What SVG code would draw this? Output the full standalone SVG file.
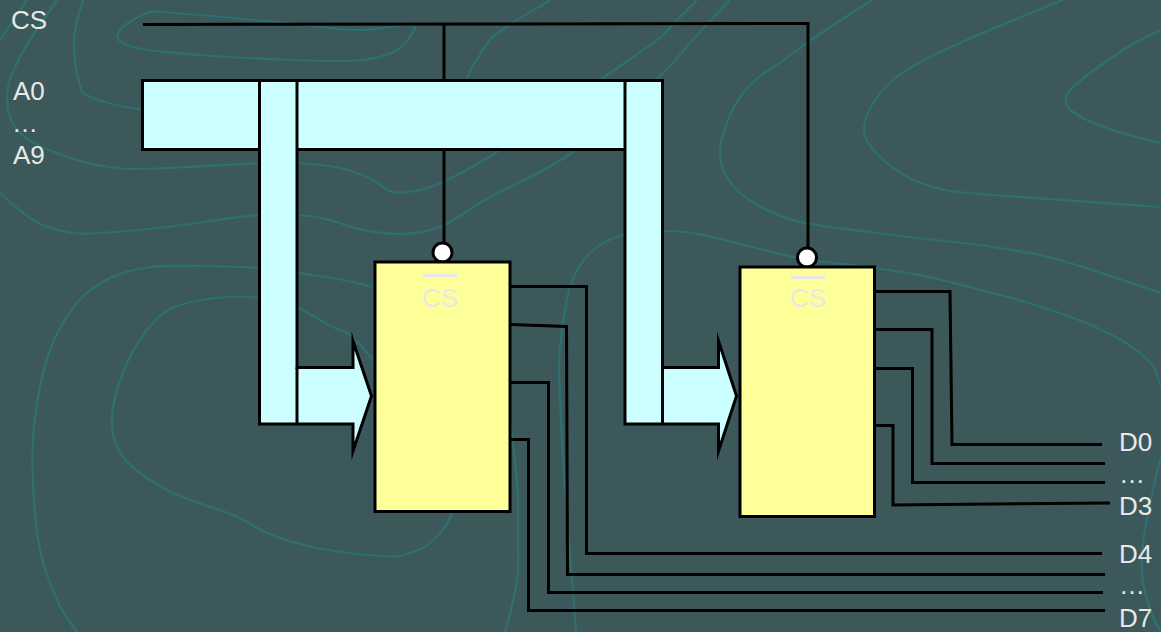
<svg xmlns="http://www.w3.org/2000/svg" width="1161" height="632" viewBox="0 0 1161 632">
<style>
.bg{fill:#3c585a}
.c{fill:none;stroke:#2e7071;stroke-width:2.2}
.w{fill:none;stroke:#000;stroke-width:3}
.b{fill:#ccffff;stroke:#000;stroke-width:3;stroke-miterlimit:10}
.y{fill:#ffff99;stroke:#000;stroke-width:3}
.o{fill:#fff;stroke:#000;stroke-width:3}
.t{font-family:"Liberation Sans",Arial,sans-serif;font-size:26px;fill:#e8e8e8}
</style>
<rect class="bg" width="1161" height="632"/>
<g id="contours">
<path class="c" d="M118,33C120,27 138,16 147,13S159,12 173,13S214,16 233,18S266,21 287,23S336,30 357,30S401,24 410,25S414,29 412,33S405,45 397,50S381,58 363,60S317,61 290,60S226,57 200,55S147,51 133,47S116,39 118,33Z"/>
<path class="c" d="M57,0C57,0 28,41 20,57S7,84 7,97S10,123 20,133S51,151 67,157S100,166 117,168S143,169 167,168S240,164 258,163"/>
<path class="c" d="M83,0C78,15 74,30 74,43C74,60 76,78 83,93C100,103 125,107 142,110"/>
<path class="c" d="M467,78C471,68 474,62 477,60C481,52 486,45 490,40S505,28 517,20S540,7 550,0"/>
<path class="c" d="M298,163C298,163 327,165 340,168S365,176 373,180S384,189 390,191S398,193 407,192S428,189 443,182S470,169 497,152S576,97 603,78S644,50 657,40S673,24 680,17S690,7 697,0"/>
<path class="c" d="M0,193C0,193 22,213 33,220S56,230 67,232S83,234 100,233S141,230 167,227S236,217 258,215S286,214 298,215S319,217 330,220S352,228 363,230S384,234 397,234S424,233 440,227S468,209 490,197S545,172 573,152S638,96 658,78S678,56 690,43S716,14 730,0"/>
<path class="c" d="M27,0L0,40"/>
<path class="c" d="M373,287C373,287 345,280 333,278S310,275 298,273S274,269 258,268S218,266 200,266S165,265 150,267S122,272 110,278S87,291 77,303S57,331 50,350S38,395 35,417S32,461 33,483S36,530 40,550S51,586 57,600S67,618 77,632"/>
<path class="c" d="M373,360C373,360 357,340 350,335S342,331 333,327S310,313 298,308S270,300 258,298S240,296 227,297S192,301 180,305S162,313 153,323S134,347 127,363S113,401 112,417S114,445 123,457S149,480 167,490S216,508 233,515S253,527 267,533S298,544 317,548S366,555 380,556S395,557 403,555S422,550 430,543S445,530 452,513"/>
<path class="c" d="M872,0C872,0 814,37 793,53S755,77 743,93S721,134 720,150S725,178 737,190S770,213 793,220S844,228 877,233S962,242 993,247S1032,252 1060,260S1130,283 1161,293"/>
<path class="c" d="M1063,0C1063,0 988,30 960,43S909,66 893,80S865,113 864,127S875,153 887,163S915,182 933,187S955,192 993,195S1100,203 1161,207"/>
<path class="c" d="M1161,30C1161,30 1136,41 1120,52S1072,84 1067,95S1071,112 1087,120S1130,136 1161,143"/>
<path class="c" d="M576,632C576,632 574,604 572,580S567,520 565,490S561,421 560,397S558,365 560,347S565,303 570,287S581,262 590,253S610,239 622,235S649,231 663,231S681,231 703,235S764,251 793,257S850,264 875,268S914,273 942,280S1014,298 1042,307S1090,324 1108,333S1139,351 1148,360S1156,373 1161,387"/>
<path class="c" d="M510,420C514,450 519,485 518,513S520,560 517,580S510,615 505,632"/>
<path class="c" d="M1161,457C1161,457 1156,476 1153,490S1145,527 1143,543S1141,571 1143,583S1150,609 1153,617S1158,627 1161,632"/>
</g>
<g id="connectors">
<path class="w" d="M143,24.500L808,23.500V249"/>
<path class="w" d="M444,24V80M444,150V244"/>
<path class="w" d="M510,286.500H586.500V553.500H1102"/>
<path class="w" d="M510,324.500L566.500,326.500L567.500,574.500H1105"/>
<path class="w" d="M510,382.500H548.500V592.500H1103"/>
<path class="w" d="M510,439.500H528.500V610.500H1105"/>
<path class="w" d="M875,291.500H950L952,444.500H1102"/>
<path class="w" d="M875,329.500H932V463.500H1105"/>
<path class="w" d="M875,368.500H912.500V482.500H1105"/>
<path class="w" d="M875,425.500H893V505L1110,503"/>
</g>
<g id="address-bus">
<rect class="b" x="142.500" y="80.500" width="520" height="69"/>
</g>
<g id="bus-branch-1">
<path class="b" d="M259.500,80.500H297V367.500H353V341L371.500,396L353,451V424H259.500Z"/>
<path class="w" d="M297,367.500V425"/>
</g>
<g id="bus-branch-2">
<path class="b" d="M625,80.500H662.500V367.500H718.500V341L736.500,396L718.500,451V424H625Z"/>
<path class="w" d="M662.500,367.500V425"/>
</g>
<g id="chip-1">
<circle class="o" cx="442.500" cy="252.500" r="9.500"/>
<rect class="y" x="375" y="262" width="135" height="249.500"/>
<path stroke="#e8e8e8" stroke-width="3" fill="none" d="M423,275.500H457"/>
<text class="t" x="422" y="307">CS</text>
</g>
<g id="chip-2">
<circle class="o" cx="807" cy="257.500" r="9.500"/>
<rect class="y" x="740" y="267" width="134.500" height="249.500"/>
<path stroke="#e8e8e8" stroke-width="3" fill="none" d="M791,277.500H825"/>
<text class="t" x="790" y="307">CS</text>
</g>
<g id="labels">
<text class="t" x="11" y="29">CS</text>
<text class="t" x="13" y="100">A0</text>
<text class="t" x="12" y="132">…</text>
<text class="t" x="13" y="164">A9</text>
<text class="t" x="1119" y="451">D0</text>
<text class="t" x="1119" y="483">…</text>
<text class="t" x="1119" y="515">D3</text>
<text class="t" x="1119" y="563">D4</text>
<text class="t" x="1119" y="594">…</text>
<text class="t" x="1119" y="627">D7</text>
</g>
</svg>
